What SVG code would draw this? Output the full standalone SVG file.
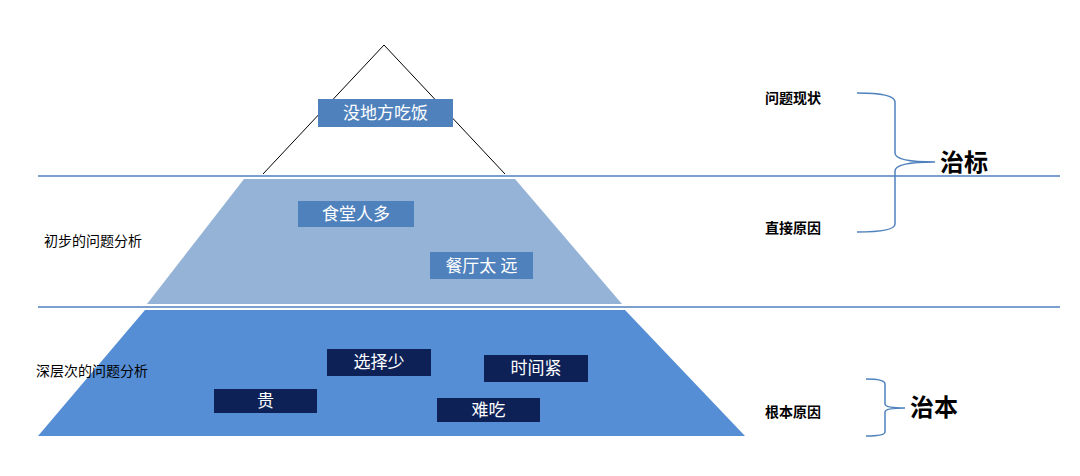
<svg xmlns="http://www.w3.org/2000/svg" width="1080" height="476" viewBox="0 0 1080 476">
<style>
text{font-family:"Liberation Serif","Noto Sans CJK SC",serif;}
.lbl{font-size:14px;fill:#000;}
.w{font-size:17px;fill:#fff;text-anchor:middle;}
.big{font-size:24px;font-weight:bold;fill:#000;}
.hl{stroke:#4f81bd;stroke-width:1.5;}
.br{fill:none;stroke:#4f81bd;stroke-width:1.5;}
.lt{fill:#4f81bd;}
.dk{fill:#0e2157;}
</style>
<rect width="1080" height="476" fill="#fff"/>
<g id="apex"><polyline points="263,174 384,45 505,174" fill="none" stroke="#000" stroke-width="1"/></g>
<g id="middle"><polygon points="244,179 515,179 622,304 147,304" fill="#95b3d7"/></g>
<g id="bottom"><polygon points="145,310 625,310 745,436 38,436" fill="#558ed5"/></g>
<g id="connectors">
<line class="hl" x1="38" y1="176" x2="1060" y2="176"/>
<line class="hl" x1="38" y1="307" x2="1060" y2="307"/>
<path class="br" d="M857,93 Q895,93 895,102 L895,153 Q895,162 935,162 Q895,162 895,171 L895,224 Q895,232 857,232"/>
<path class="br" d="M866,379 Q885,379 885,384 L885,404 Q885,408 905,408 Q885,408 885,412 L885,432 Q885,436 866,436"/>
</g>
<g id="n1"><rect class="lt" x="318" y="99" width="135" height="28"/><text class="w" x="385.5" y="119">没地方吃饭</text></g>
<g id="n2"><rect class="lt" x="298" y="201" width="116" height="26"/><text class="w" x="356" y="220">食堂人多</text></g>
<g id="n3"><rect class="lt" x="430" y="252" width="103" height="27"/><text class="w" x="481.5" y="272">餐厅太 远</text></g>
<g id="n4"><rect class="dk" x="327" y="349" width="104" height="27"/><text class="w" x="379" y="368">选择少</text></g>
<g id="n5"><rect class="dk" x="484" y="355" width="104" height="27"/><text class="w" x="536" y="374">时间紧</text></g>
<g id="n6"><rect class="dk" x="214" y="389" width="103" height="24"/><text class="w" x="265.5" y="407">贵</text></g>
<g id="n7"><rect class="dk" x="437" y="398" width="103" height="24"/><text class="w" x="488.5" y="416">难吃</text></g>
<g id="labels">
<text class="lbl" x="44" y="246">初步的问题分析</text>
<text class="lbl" x="36" y="376">深层次的问题分析</text>
<text class="lbl" x="765" y="103" font-weight="bold">问题现状</text>
<text class="lbl" x="765" y="233" font-weight="bold">直接原因</text>
<text class="lbl" x="765" y="417" font-weight="bold">根本原因</text>
<text class="big" x="940" y="171">治标</text>
<text class="big" x="910" y="416">治本</text>
</g>
</svg>
